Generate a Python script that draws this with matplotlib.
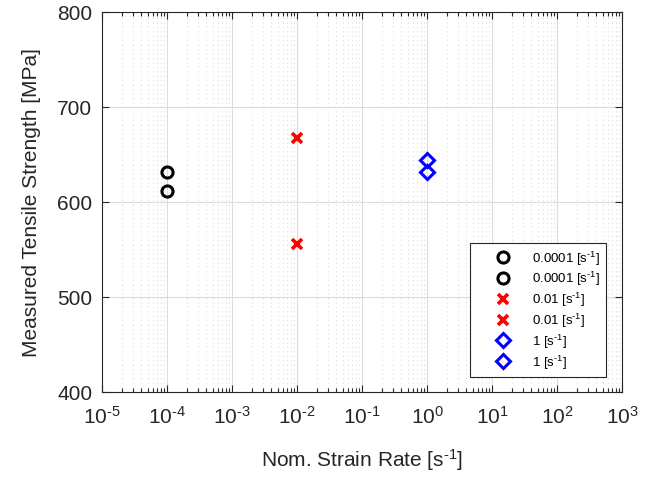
import numpy as np
import matplotlib
matplotlib.use("Agg")
import matplotlib.pyplot as plt

plt.rcParams['font.family'] = ['Liberation Sans', 'DejaVu Sans']
plt.rcParams['mathtext.fontset'] = 'custom'
plt.rcParams['mathtext.rm'] = 'Liberation Sans'
plt.rcParams['mathtext.it'] = 'Liberation Sans'

# strain rate [1/s], measured tensile strength [MPa]
rate_slow = [1e-4, 1e-4]
uts_slow = [631.3, 611.3]
rate_mid = [1e-2, 1e-2]
uts_mid = [667.5, 555.8]
rate_fast = [1.0, 1.0]
uts_fast = [643.9, 631.6]

exponents = list(range(-5, 4))
labels = ["0.0001 [s$^{\\text{-}1}$]", "0.0001 [s$^{\\text{-}1}$]",
          "0.01 [s$^{\\text{-}1}$]", "0.01 [s$^{\\text{-}1}$]",
          "1 [s$^{\\text{-}1}$]", "1 [s$^{\\text{-}1}$]"]

fig = plt.figure(figsize=(6.55, 4.81), dpi=100)
ax = fig.add_axes([0.156, 0.183, 0.794, 0.790])

axcol = '#262626'
for i in range(2):
    ax.plot(rate_slow[i], uts_slow[i], 'o', ms=8, mfc='none', mec='black', mew=2.2,
            linestyle='none', label=labels[i])
for i in range(2):
    ax.plot(rate_mid[i], uts_mid[i], 'x', ms=7.5, color='red', mew=2.6,
            linestyle='none', label=labels[2 + i])
for i in range(2):
    ax.plot(rate_fast[i], uts_fast[i], 'D', ms=7.5, mfc='none', mec='blue', mew=2.2,
            linestyle='none', label=labels[4 + i])

ax.set_xscale('log')
ax.set_xlim(1e-5, 1e3)
ax.set_ylim(400, 800)
ax.set_xticks([10.0 ** k for k in exponents])
ax.set_xticklabels(["$10^{%s}$" % (("\\text{-}%d" % -k) if k < 0 else str(k)) for k in exponents])
ax.set_yticks([400, 500, 600, 700, 800])

ax.grid(True, which='major', color='#dcdcdc', linewidth=0.8, linestyle='-')
ax.grid(True, which='minor', axis='x', color='#dcdcdc', linewidth=0.8, linestyle=(0, (1, 3)))
ax.set_axisbelow(True)

ax.tick_params(which='both', direction='in', top=True, right=True, colors=axcol,
               labelsize=15, labelcolor=axcol)
ax.tick_params(which='major', length=5, width=0.8)
ax.tick_params(axis='x', which='major', pad=9)
ax.tick_params(axis='y', which='major', pad=7)
ax.tick_params(which='minor', length=3, width=0.8)
for s in ax.spines.values():
    s.set_color(axcol)
    s.set_linewidth(0.8)

ax.set_xlabel("Nom. Strain Rate [s$^{\\text{-}1}$]", fontsize=15, color=axcol, labelpad=14)
ax.set_ylabel("Measured Tensile Strength [MPa]", fontsize=15, color=axcol, labelpad=12)

leg = ax.legend(loc='lower right', bbox_to_anchor=(0.969, 0.04), fontsize=9.5,
                frameon=True, fancybox=False, edgecolor=axcol, framealpha=1,
                handletextpad=0.1, labelspacing=0.2, borderpad=0.45, handlelength=4.2,
                borderaxespad=0)
leg.get_frame().set_linewidth(0.8)

fig.savefig("out.png", dpi=100)
